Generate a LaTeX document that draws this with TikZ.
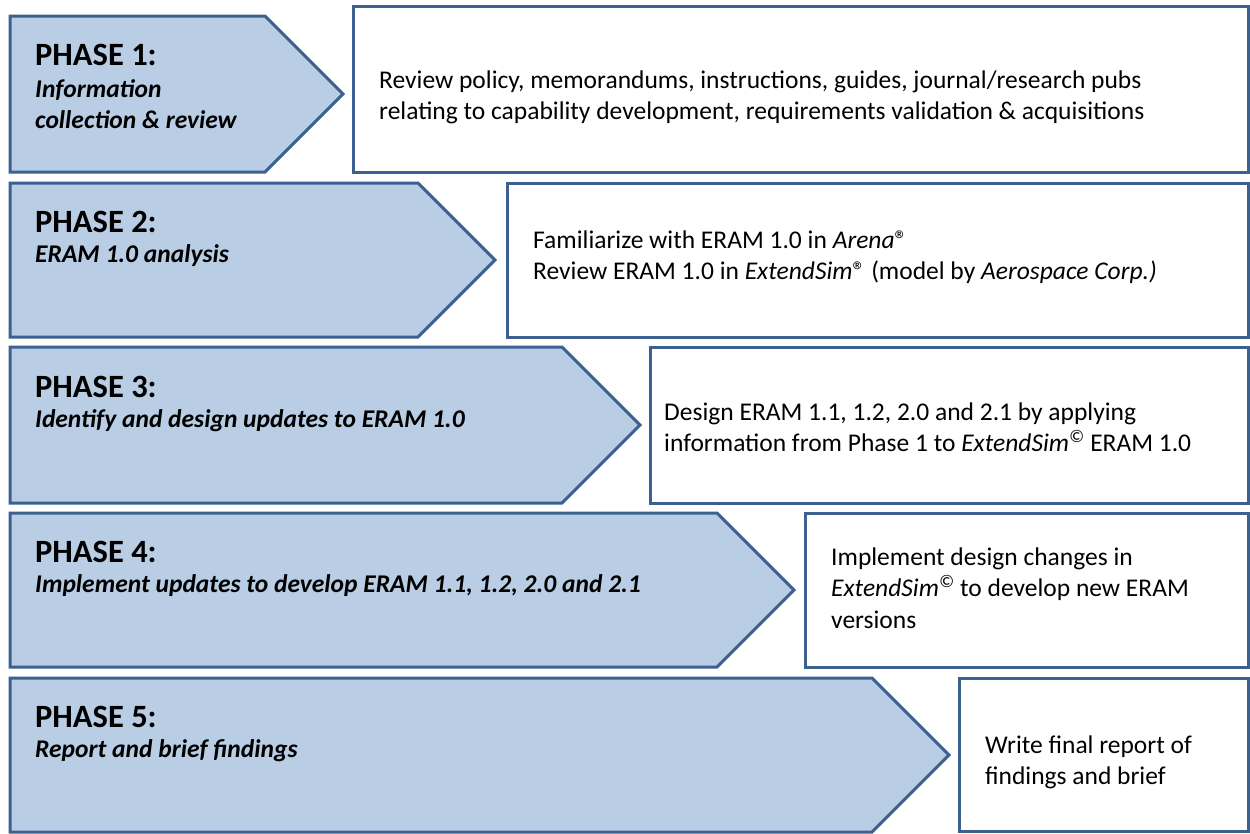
\documentclass[tikz,border=0pt]{standalone}
\usepackage{fontspec}
\setmainfont{Carlito}
\definecolor{phasefill}{HTML}{B9CDE5}
\definecolor{phaseline}{HTML}{3C6191}
\newcommand{\textlines}[1]{\begin{tabular}[t]{@{}l@{}}#1\end{tabular}}
\tikzset{
  phasearrow/.style={draw=phaseline, fill=phasefill, line width=3pt},
  taskbox/.style={draw=phaseline, fill=white, line width=3pt},
  heading/.style={anchor=base west, inner sep=0pt, font=\fontsize{32.5}{38}\selectfont\bfseries},
  subhead/.style={anchor=base west, inner sep=0pt, font=\fontsize{25.5}{31}\selectfont\bfseries\itshape},
  tasktext/.style={anchor=base west, inner sep=0pt, font=\fontsize{25.5}{31.5}\selectfont},
}
\begin{document}
\begin{tikzpicture}[x=1pt, y=-1pt]
\useasboundingbox (0,0) rectangle (1250,833);

% phase arrows (pentagon shapes)
\draw[phasearrow] (10,16)  -- (265,16)  -- (343,94)  -- (265,172) -- (10,172) -- cycle;
\draw[phasearrow] (10,183) -- (418,183) -- (495,260) -- (418,337) -- (10,337) -- cycle;
\draw[phasearrow] (10,347) -- (562,347) -- (640,425) -- (562,503) -- (10,503) -- cycle;
\draw[phasearrow] (10,513) -- (717,513) -- (794,590) -- (717,667) -- (10,667) -- cycle;
\draw[phasearrow] (10,678) -- (872,678) -- (949,755) -- (872,832) -- (10,832) -- cycle;

% task boxes
\draw[taskbox] (353,6)   rectangle (1248,172);
\draw[taskbox] (507,183) rectangle (1248,337);
\draw[taskbox] (650,347) rectangle (1248,503);
\draw[taskbox] (805,513) rectangle (1248,667);
\draw[taskbox] (959,678) rectangle (1248,831);

% phase titles
\node[heading] (h1) at (35,65)  {PHASE 1:};
\node[subhead] (s1) at (35,97)  {\textlines{Information\\collection \& review}};
\node[heading] (h2) at (35,232) {PHASE 2:};
\node[subhead] (s2) at (35,262) {ERAM 1.0 analysis};
\node[heading] (h3) at (35,397) {PHASE 3:};
\node[subhead] (s3) at (35,427) {Identify and design updates to ERAM 1.0};
\node[heading] (h4) at (35,562) {PHASE 4:};
\node[subhead] (s4) at (35,592) {Implement updates to develop ERAM 1.1, 1.2, 2.0 and 2.1};
\node[heading] (h5) at (35,727) {PHASE 5:};
\node[subhead] (s5) at (35,757) {Report and brief findings};

% task descriptions
\node[tasktext] (t1) at (379,88) {\textlines{Review policy, memorandums, instructions, guides, journal/research pubs\\
  relating to capability development, requirements validation \& acquisitions}};
\node[tasktext] (t2) at (533,248) {\textlines{Familiarize with ERAM 1.0 in \textit{Arena}®\\
  Review ERAM 1.0 in \textit{ExtendSim}® (model by \textit{Aerospace Corp.)}}};
\node[tasktext] (t3) at (664,420) {\textlines{Design ERAM 1.1, 1.2, 2.0 and 2.1 by applying\\
  information from Phase 1 to \textit{ExtendSim\textsuperscript{©}} ERAM 1.0}};
\node[tasktext] (t4) at (831,565) {\textlines{Implement design changes in\\
  \textit{ExtendSim\textsuperscript{©}} to develop new ERAM\\ versions}};
\node[tasktext] (t5) at (985,753) {\textlines{Write final report of\\ findings and brief}};
\end{tikzpicture}
\end{document}
